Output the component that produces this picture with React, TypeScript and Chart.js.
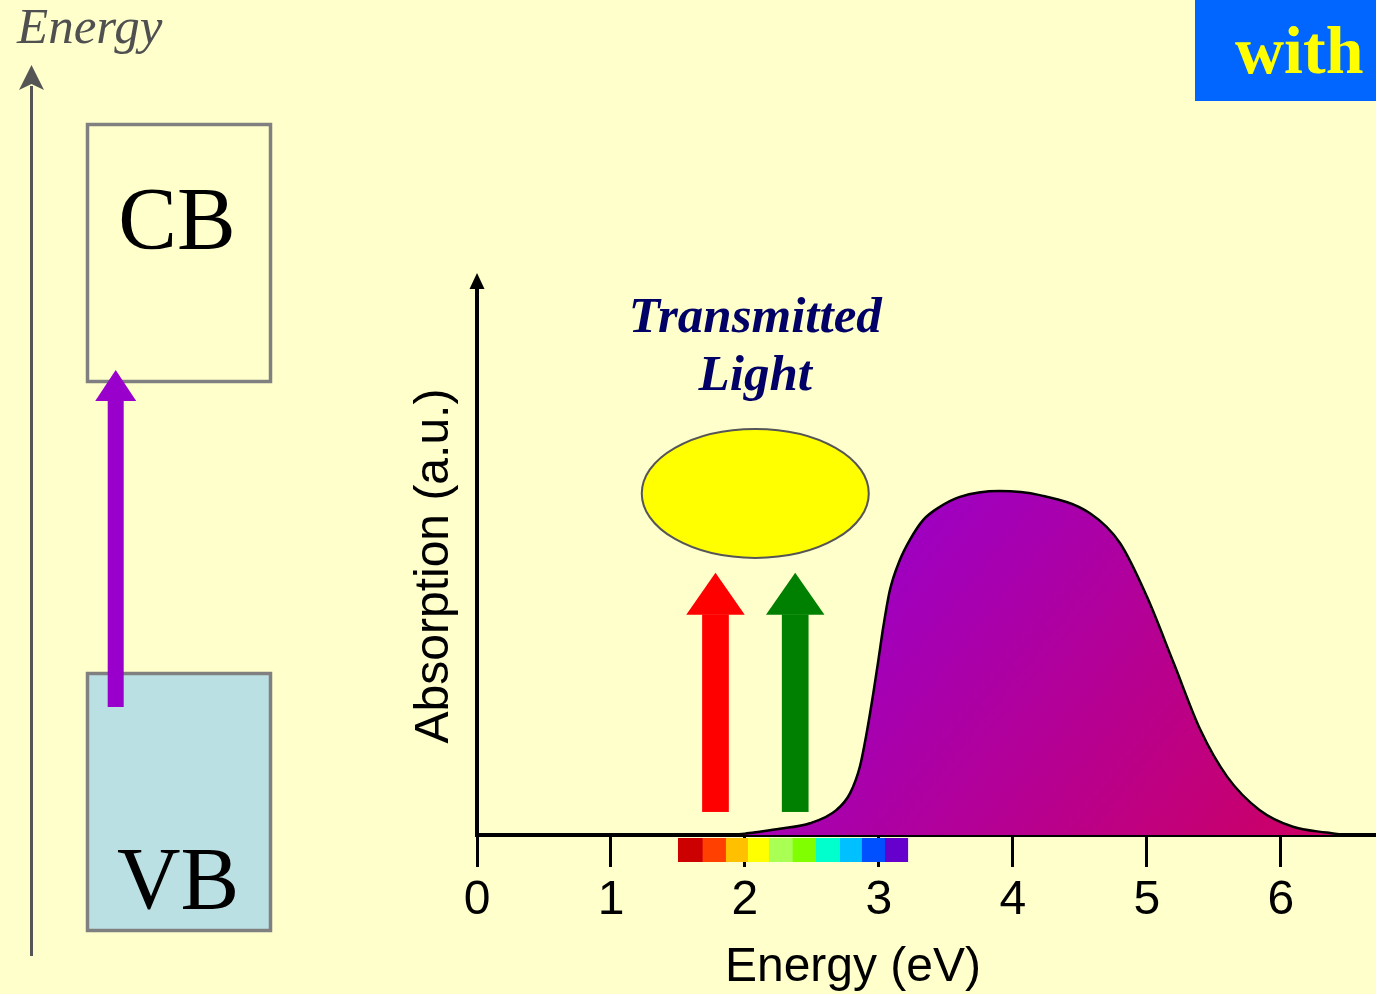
import React, { useEffect, useRef } from "react";
import { Chart, registerables } from "chart.js";

Chart.register(...registerables);

// ---- Data ----
const energyEV = [1.64, 2.0, 2.11, 2.26, 2.485, 2.684, 2.784, 2.858, 2.908, 2.958, 2.996, 3.033, 3.082, 3.157, 3.231, 3.331, 3.455, 3.604, 3.9, 4.2, 4.575, 4.8, 5.0, 5.2, 5.4, 5.6, 5.84, 6.09, 6.34, 6.48];
const absorption = [0, 0.004, 0.0096, 0.018, 0.034, 0.073, 0.121, 0.199, 0.296, 0.412, 0.509, 0.606, 0.712, 0.8, 0.858, 0.916, 0.954, 0.983, 1.0, 0.988, 0.935, 0.848, 0.693, 0.5, 0.305, 0.169, 0.073, 0.024, 0.007, 0];
const tickValues = [0, 1, 2, 3, 4, 5, 6];
const tickLabels = ["0", "1", "2", "3", "4", "5", "6"];
const spectrumEdges = [1.5, 1.684, 1.858, 2.022, 2.179, 2.356, 2.53, 2.709, 2.873, 3.045, 3.214];
const spectrumColors = ["#CC0000", "#FF4000", "#FFC000", "#FFFF00", "#AAFF55", "#80FF00", "#00FFCC", "#00C0FF", "#0050FF", "#6600CC"];
// transmitted photons (energy in eV) and their arrow extents (absorption units)
const photonEnergies = [1.78, 2.375];
const photonColors = ["#FF0000", "#008000"];
const photonTop = 0.762;
const photonBottom = 0.067;
const lightCenter = { x: 2.077, y: 0.993 };

const xTitle = "Energy (eV)";
const yTitle = "Absorption (a.u.)";

function upArrow(ctx: CanvasRenderingContext2D, cx: number, tipY: number, bottomY: number, shaftW: number, headW: number, headH: number, color: string) {
  ctx.save();
  ctx.fillStyle = color;
  ctx.fillRect(cx - shaftW / 2, tipY + headH - 0.5, shaftW, bottomY - tipY - headH + 0.5);
  ctx.beginPath();
  ctx.moveTo(cx, tipY);
  ctx.lineTo(cx - headW / 2, tipY + headH);
  ctx.lineTo(cx + headW / 2, tipY + headH);
  ctx.closePath();
  ctx.fill();
  ctx.restore();
}

const scenePlugin = {
  id: "scene",
  beforeDraw(chart: any) {
    const ctx = chart.ctx as CanvasRenderingContext2D;
    ctx.save();
    ctx.fillStyle = "#FFFFCC";
    ctx.fillRect(0, 0, chart.width, chart.height);
    ctx.restore();
  },
  beforeDatasetsDraw(chart: any) {
    const ctx = chart.ctx as CanvasRenderingContext2D;
    const xs = chart.scales.x;
    const base = chart.chartArea.bottom;
    ctx.save();
    for (let i = 0; i < spectrumColors.length; i++) {
      const x0 = xs.getPixelForValue(spectrumEdges[i]);
      const x1 = xs.getPixelForValue(spectrumEdges[i + 1]);
      ctx.fillStyle = spectrumColors[i];
      ctx.fillRect(x0, base + 3, x1 - x0 + 0.5, 24);
    }
    ctx.restore();
  },
  afterDraw(chart: any) {
    const ctx = chart.ctx as CanvasRenderingContext2D;
    const xs = chart.scales.x;
    const ys = chart.scales.y;
    const { left, top, bottom } = chart.chartArea;
    ctx.save();

    // y-axis arrow head
    ctx.fillStyle = "#000";
    ctx.beginPath();
    ctx.moveTo(left, top - 15);
    ctx.lineTo(left - 7.5, top + 1);
    ctx.lineTo(left + 7.5, top + 1);
    ctx.closePath();
    ctx.fill();

    // axis titles
    ctx.fillStyle = "#000";
    ctx.font = "48px 'Liberation Sans', Arial, sans-serif";
    ctx.textAlign = "center";
    ctx.textBaseline = "alphabetic";
    ctx.fillText(xTitle, 853, bottom + 146);
    ctx.save();
    ctx.translate(448, 566);
    ctx.rotate(-Math.PI / 2);
    ctx.fillText(yTitle, 0, 0);
    ctx.restore();

    // Photon arrows
    photonEnergies.forEach((e, i) => {
      upArrow(ctx, xs.getPixelForValue(e), ys.getPixelForValue(photonTop), ys.getPixelForValue(photonBottom), 26.7, 58.5, 42, photonColors[i]);
    });

    // Transmitted light ellipse
    const ecx = xs.getPixelForValue(lightCenter.x);
    const ecy = ys.getPixelForValue(lightCenter.y);
    ctx.beginPath();
    ctx.ellipse(ecx, ecy, 113.5, 64.5, 0, 0, Math.PI * 2);
    ctx.fillStyle = "#FFFF00";
    ctx.fill();
    ctx.lineWidth = 2;
    ctx.strokeStyle = "#555555";
    ctx.stroke();

    ctx.fillStyle = "#000066";
    ctx.font = "italic bold 51px 'Liberation Serif', 'Times New Roman', serif";
    ctx.textAlign = "center";
    ctx.fillText("Transmitted", ecx, 332);
    ctx.fillText("Light", ecx, 390);

    // Left energy diagram
    ctx.strokeStyle = "#555555";
    ctx.lineWidth = 3;
    ctx.beginPath();
    ctx.moveTo(31.5, 956);
    ctx.lineTo(31.5, 86);
    ctx.stroke();
    ctx.fillStyle = "#555555";
    ctx.beginPath();
    ctx.moveTo(31.5, 65);
    ctx.lineTo(19, 90);
    ctx.lineTo(31.5, 84);
    ctx.lineTo(44, 90);
    ctx.closePath();
    ctx.fill();

    ctx.font = "italic 51px 'Liberation Serif', 'Times New Roman', serif";
    ctx.textAlign = "left";
    ctx.fillStyle = "#505050";
    ctx.fillText("Energy", 17, 43);

    // CB box
    ctx.lineWidth = 3.5;
    ctx.strokeStyle = "#808080";
    ctx.strokeRect(87.5, 124.5, 183, 257);
    // VB box
    ctx.fillStyle = "#BBE0E3";
    ctx.fillRect(87.5, 673.5, 183, 257);
    ctx.strokeRect(87.5, 673.5, 183, 257);

    ctx.fillStyle = "#000";
    ctx.font = "88px 'Liberation Serif', 'Times New Roman', serif";
    ctx.textAlign = "center";
    ctx.fillText("CB", 177, 248);
    ctx.fillText("VB", 178, 908);

    // excitation arrow
    upArrow(ctx, 115.7, 370, 707, 16, 41, 31, "#9900CC");

    // "with" box
    ctx.fillStyle = "#0066FF";
    ctx.fillRect(1195, 0, 181, 101);
    ctx.fillStyle = "#FFFF00";
    ctx.font = "bold 68px 'Liberation Serif', 'Times New Roman', serif";
    ctx.textAlign = "left";
    ctx.fillText("with", 1235, 73);

    ctx.restore();
  },
};

export default function App() {
  const canvasRef = useRef<HTMLCanvasElement | null>(null);

  useEffect(() => {
    if (!canvasRef.current) return;
    const chart = new Chart(canvasRef.current, {
      type: "line",
      data: {
        datasets: [
          {
            data: energyEV.map((x, i) => ({ x, y: absorption[i] })),
            borderColor: "#000000",
            borderWidth: 2.5,
            pointRadius: 0,
            cubicInterpolationMode: "monotone",
            fill: "origin",
            backgroundColor: (c: any) => {
              const ch = c.chart;
              if (!ch.chartArea) return "#B000A0";
              const xs = ch.scales.x;
              const ys = ch.scales.y;
              const g = ch.ctx.createLinearGradient(xs.getPixelForValue(3.0), ys.getPixelForValue(1.0), xs.getPixelForValue(6.2), ys.getPixelForValue(0));
              g.addColorStop(0, "#9A00CA");
              g.addColorStop(1, "#CC0066");
              return g;
            },
          },
        ],
      },
      options: {
        responsive: false,
        animation: false,
        devicePixelRatio: 1,
        layout: { padding: { top: 288, right: 0, bottom: 0, left: 0 } },
        plugins: {
          legend: { display: false },
          tooltip: { enabled: false },
          title: { display: false },
        },
        scales: {
          x: {
            type: "linear",
            min: 0,
            max: 6.71,
            z: 1,
            afterBuildTicks: (s: any) => {
              s.ticks = tickValues.map((v) => ({ value: v }));
            },
            afterFit: (s: any) => {
              s.height = 159;
            },
            grid: { drawOnChartArea: false, drawTicks: true, tickLength: 32, tickWidth: 3, tickColor: "#000" },
            border: { display: true, color: "#000", width: 4 },
            ticks: {
              color: "#000",
              font: { family: "'Liberation Sans', Arial, sans-serif", size: 48 },
              padding: 5,
              maxRotation: 0,
              autoSkip: false,
              callback: (v: any) => {
                const i = tickValues.indexOf(Number(v));
                return i >= 0 ? tickLabels[i] : "";
              },
            },
          },
          y: {
            type: "linear",
            min: 0,
            max: 1.59,
            afterFit: (s: any) => {
              s.width = 477;
            },
            grid: { display: false },
            border: { display: true, color: "#000", width: 4 },
            ticks: { display: false },
          },
        },
      } as any,
      plugins: [scenePlugin],
    });
    return () => chart.destroy();
  }, []);

  return (
    <div style={{ position: "fixed", left: 0, top: 0, width: 1376, height: 994, background: "#FFFFCC" }}>
      <canvas ref={canvasRef} width={1376} height={994} style={{ display: "block" }} />
    </div>
  );
}
